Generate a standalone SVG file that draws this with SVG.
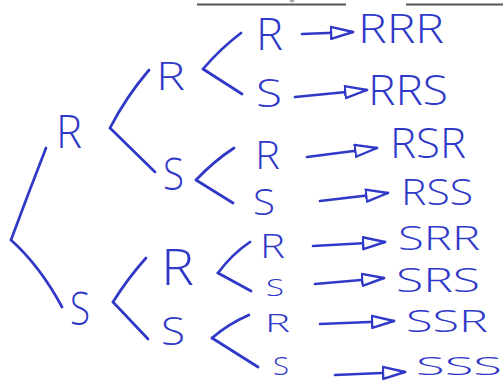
<svg xmlns="http://www.w3.org/2000/svg" width="503" height="383" viewBox="0 0 503 383">
  <defs>
    <style>
      .pen { fill: none; stroke: #3038c8; stroke-width: 2.7; stroke-linecap: round; stroke-linejoin: round; }
      .lbl { fill: #3038c8; font-family: "Open Sans", "Liberation Sans", sans-serif; font-weight: 300; }
      .rule { stroke: #555; stroke-width: 2; }
    </style>
    <marker id="head" markerUnits="userSpaceOnUse" markerWidth="26" markerHeight="16" viewBox="-1 -8 26 16" refX="22" refY="0" orient="auto">
      <path d="M0,-6 L22,0 L0,6 Z" fill="#fff" stroke="#3038c8" stroke-width="2.4" stroke-linejoin="round"/>
    </marker>
  </defs>
  <rect width="503" height="383" fill="#fff"/>

  <!-- header rules -->
  <g id="header">
    <line class="rule" x1="197" y1="4.5" x2="346" y2="4.5"/>
    <line class="rule" x1="406" y1="4.5" x2="503" y2="4.5"/>
    <circle cx="292" cy="0" r="2.5" fill="#aaa"/>
  </g>

  <!-- tree branches and arrows -->
  <g id="connectors">
    <path class="pen" d="M11,240 Q28,194 46,148"/>
    <path class="pen" d="M11,240 Q40,266 62,307"/>

    <path class="pen" d="M110,128 Q126,97 149,70"/>
    <path class="pen" d="M110,128 L155,172"/>
    <path class="pen" d="M113,302 Q128,278 146,258"/>
    <path class="pen" d="M113,302 L148,339"/>

    <path class="pen" d="M203,69 Q220,49 241,33"/>
    <path class="pen" d="M203,69 L242,94"/>
    <path class="pen" d="M196,180 Q214,161 234,148"/>
    <path class="pen" d="M196,180 L233,203"/>
    <path class="pen" d="M218,273 Q232,254 250,242"/>
    <path class="pen" d="M218,273 L251,291"/>
    <path class="pen" d="M212,338 Q228,324 249,315"/>
    <path class="pen" d="M212,338 L258,367"/>

    <path class="pen" d="M302,34 L353,32" marker-end="url(#head)"/>
    <path class="pen" d="M295,97 L367,90" marker-end="url(#head)"/>
    <path class="pen" d="M307,157 L377,148" marker-end="url(#head)"/>
    <path class="pen" d="M320,201 L388,193" marker-end="url(#head)"/>
    <path class="pen" d="M313,246 L385,242" marker-end="url(#head)"/>
    <path class="pen" d="M315,284 L384,278" marker-end="url(#head)"/>
    <path class="pen" d="M320,324 L394,321" marker-end="url(#head)"/>
    <path class="pen" d="M335,375 L405,372" marker-end="url(#head)"/>
  </g>

  <!-- first toss -->
  <g id="n-R"><text class="lbl" x="56" y="148" font-size="46" textLength="26" lengthAdjust="spacingAndGlyphs">R</text></g>
  <g id="n-S"><text class="lbl" x="70" y="325" font-size="46" textLength="20" lengthAdjust="spacingAndGlyphs">S</text></g>

  <!-- second toss -->
  <g id="n-RR"><text class="lbl" x="156" y="90" font-size="38" textLength="29" lengthAdjust="spacingAndGlyphs">R</text></g>
  <g id="n-RS"><text class="lbl" x="163" y="190" font-size="44" textLength="21" lengthAdjust="spacingAndGlyphs">S</text></g>
  <g id="n-SR"><text class="lbl" x="161" y="285" font-size="50" textLength="33" lengthAdjust="spacingAndGlyphs">R</text></g>
  <g id="n-SS"><text class="lbl" x="161" y="345" font-size="38" textLength="24" lengthAdjust="spacingAndGlyphs">S</text></g>

  <!-- third toss -->
  <g id="n-RRR"><text class="lbl" x="256" y="50" font-size="44" textLength="27" lengthAdjust="spacingAndGlyphs">R</text></g>
  <g id="n-RRS"><text class="lbl" x="256" y="107" font-size="38" textLength="26" lengthAdjust="spacingAndGlyphs">S</text></g>
  <g id="n-RSR"><text class="lbl" x="255" y="169" font-size="38" textLength="25" lengthAdjust="spacingAndGlyphs">R</text></g>
  <g id="n-RSS"><text class="lbl" x="253" y="215" font-size="36" textLength="22" lengthAdjust="spacingAndGlyphs">S</text></g>
  <g id="n-SRR"><text class="lbl" x="260" y="258" font-size="33" textLength="25" lengthAdjust="spacingAndGlyphs">R</text></g>
  <g id="n-SRS"><text class="lbl" x="266" y="296" font-size="24" textLength="18" lengthAdjust="spacingAndGlyphs">S</text></g>
  <g id="n-SSR"><text class="lbl" x="265" y="332" font-size="26" textLength="25" lengthAdjust="spacingAndGlyphs">R</text></g>
  <g id="n-SSS"><text class="lbl" x="273" y="375" font-size="26" textLength="16" lengthAdjust="spacingAndGlyphs">S</text></g>

  <!-- outcomes -->
  <g id="o-RRR"><text class="lbl" x="358" y="43" font-size="40" textLength="86" lengthAdjust="spacingAndGlyphs">RRR</text></g>
  <g id="o-RRS"><text class="lbl" x="368" y="105" font-size="42" textLength="80" lengthAdjust="spacingAndGlyphs">RRS</text></g>
  <g id="o-RSR"><text class="lbl" x="390" y="158" font-size="42" textLength="76" lengthAdjust="spacingAndGlyphs">RSR</text></g>
  <g id="o-RSS"><text class="lbl" x="401" y="205" font-size="36" textLength="72" lengthAdjust="spacingAndGlyphs">RSS</text></g>
  <g id="o-SRR"><text class="lbl" x="398" y="250" font-size="33" textLength="82" lengthAdjust="spacingAndGlyphs">SRR</text></g>
  <g id="o-SRS"><text class="lbl" x="396" y="292" font-size="33" textLength="84" lengthAdjust="spacingAndGlyphs">SRS</text></g>
  <g id="o-SSR"><text class="lbl" x="406" y="332" font-size="31" textLength="82" lengthAdjust="spacingAndGlyphs">SSR</text></g>
  <g id="o-SSS"><text class="lbl" x="416" y="375" font-size="26" textLength="86" lengthAdjust="spacingAndGlyphs">SSS</text></g>
</svg>
